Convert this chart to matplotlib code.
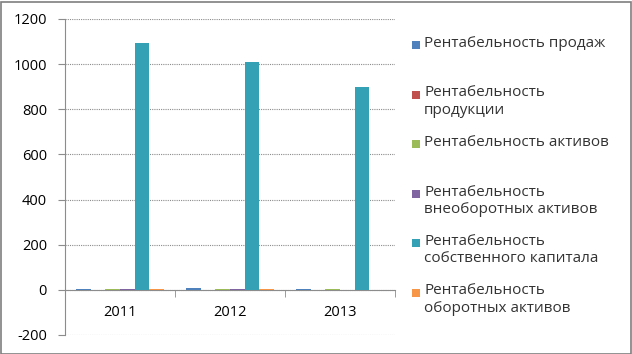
import numpy as np
import matplotlib.pyplot as plt
from matplotlib.patches import Rectangle

plt.rcParams["font.family"] = ["Open Sans", "DejaVu Sans"]
plt.rcParams["axes.unicode_minus"] = False

years = ["2011", "2012", "2013"]
series_names = [
    "Рентабельность продаж",
    "Рентабельность\nпродукции",
    "Рентабельность активов",
    "Рентабельность\nвнеоборотных активов",
    "Рентабельность\nсобственного капитала",
    "Рентабельность\nоборотных активов",
]
sales = [3, 7, 3]
production = [1, 1, 0.5]
assets = [2, 2, 2]
noncurrent = [2, 2, 0.5]
equity = [1095, 1010, 900]
current = [2, 2, 0.5]
values = [sales, production, assets, noncurrent, equity, current]
colors = ["#4F81BD", "#C0504D", "#9BBB59", "#8064A2", "#34A2B4", "#F79646"]

fig = plt.figure(figsize=(6.32, 3.54), dpi=100)
ax = fig.add_axes([65 / 632, 19 / 354, 330 / 632, 316 / 354])

x = np.arange(len(years))
w = 0.134
for i, (vals, c) in enumerate(zip(values, colors)):
    ax.bar(x + (i - 2.5) * w, vals, width=w, color=c, zorder=3)

ax.set_xlim(-0.5, 2.5)
ax.set_ylim(-200, 1200)
ax.set_yticks(range(-200, 1201, 200))
ax.yaxis.grid(True, linestyle=(0, (1, 1)), color="#8c8c8c", linewidth=0.8, zorder=0)
ax.tick_params(axis="y", length=5, color="#8c8c8c", labelsize=10.5, pad=8)

ax.spines["top"].set_visible(False)
ax.spines["right"].set_visible(False)
ax.spines["left"].set_color("#8c8c8c")
ax.spines["bottom"].set_position(("data", 0))
ax.spines["bottom"].set_color("#8c8c8c")
ax.spines["bottom"].set_linestyle((0, (1, 1)))

ax.set_xticks(x)
ax.set_xticklabels(years)
ax.tick_params(axis="x", length=0, labelsize=10.5, pad=11)
ax.set_xticks([0.5, 1.5, 2.5], minor=True)
ax.tick_params(axis="x", which="minor", length=5, color="#8c8c8c")

# legend drawn entry by entry, evenly spaced like the original
for i, (name, c) in enumerate(zip(series_names, colors)):
    yc = 1 - (45 + i * 49.5) / 354
    fig.patches.append(Rectangle((412 / 632, yc - 4 / 354), 8 / 632, 8 / 354,
                                 transform=fig.transFigure, facecolor=c,
                                 edgecolor="none"))
    fig.text(424 / 632, yc + 9 / 354, name, fontsize=11, va="top", ha="left",
             linespacing=1.2, color="#333333")

fig.patches.append(Rectangle((0.5 / 632, 0.5 / 354), 630 / 632, 352 / 354,
                             transform=fig.transFigure, fill=False,
                             edgecolor="#7f7f7f", linewidth=1.2))

fig.savefig("out.png", dpi=100)
